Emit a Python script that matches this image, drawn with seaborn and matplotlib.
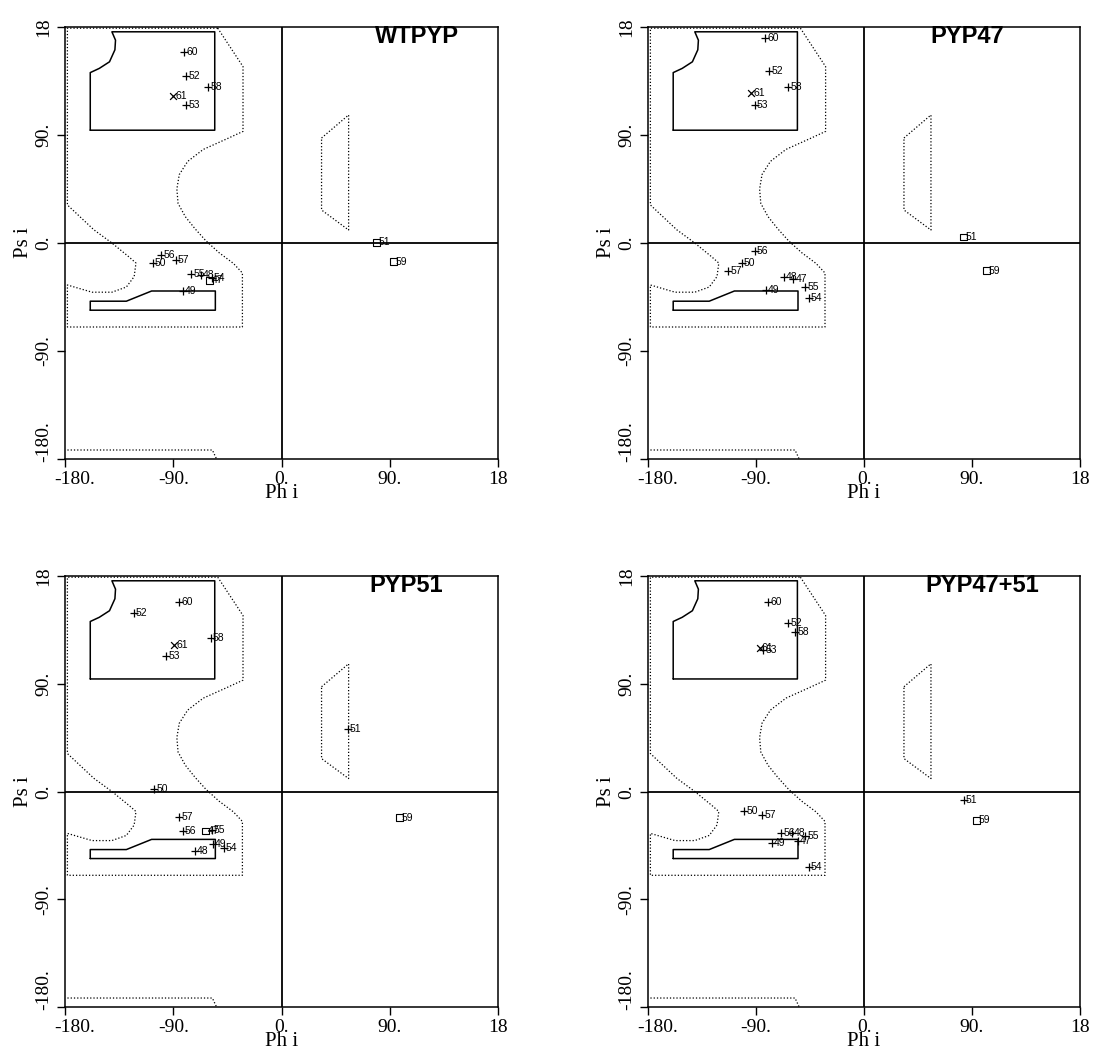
import matplotlib
matplotlib.use('Agg')
import matplotlib.pyplot as plt
import matplotlib.transforms as mtransforms
import seaborn as sns
import pandas as pd

# --- data -------------------------------------------------------------
panels = ['WTPYP', 'PYP47', 'PYP51', 'PYP47+51']
residues = [47, 48, 49, 50, 51, 52, 53, 54, 55, 56, 57, 58, 59, 60, 61]

wt_phi = [-60, -67, -82, -107, 79, -79, -79, -58, -75, -100, -88, -61, 93, -81, -90]
wt_psi = [-31, -27, -40, -17, 0.5, 139, 115, -29, -26, -10, -14, 130, -15.5, 159, 122.5]
wt_gly = [47, 51, 59]

p47_phi = [-59, -67, -82, -102, 83, -79, -91, -46, -49, -91, -113, -63, 102, -82.5, -94]
p47_psi = [-30, -28, -39, -17, 5, 143, 115, -46, -37, -7, -23, 130, -23, 170.5, 125]
p47_gly = [51, 59]

p51_phi = [-63, -72, -57, -106, 55, -123, -96, -48, -58, -82, -85, -59, 98, -85, -89]
p51_psi = [-33, -50, -44, 2, 52, 149, 113, -47, -32, -33, -21, 128, -22, 158, 122]
p51_gly = [47, 59]

p4751_phi = [-55, -60, -77, -100, 83, -63, -84, -46, -49, -69, -85, -57.5, 94, -80, -87]
p4751_psi = [-41, -35, -43, -16, -7.5, 140.5, 118, -63, -37, -35, -20, 133, -24, 158, 119.5]
p4751_gly = [59]

cross_res = 61

# allowed-region outlines (phi, psi)
core_beta_phi = [-159, -55.5, -55.5, -141, -138, -138.5, -143, -151.5, -159, -159]
core_beta_psi = [94, 94, 176, 176, 169, 161, 151, 145.5, 142, 94]
core_alpha_phi = [-159, -55, -55, -108, -129, -159, -159]
core_alpha_psi = [-56, -56, -40, -40, -48.5, -48.5, -56]
outer_phi = [-53, -32, -32, -45, -65, -78, -85, -87, -86, -80, -72, -63, -52, -40, -32.5,
             -32.5, -178, -178, -157.5, -141, -129, -122.5, -121, -126.7, -141, -156, -178, -178, -53]
outer_psi = [179, 147, 93, 87, 78, 68, 57, 45, 33, 22, 12, 2, -8, -17, -25,
             -70, -70, -35, -41, -41, -36.7, -28, -16.7, -11.7, 0, 11, 31.7, 179, 179]
strip_phi = [-178, -57.5, -54]
strip_psi = [-172.5, -172.5, -180]
left_phi = [33.3, 55.8, 55.8, 33.3, 33.3]
left_psi = [87.5, 106.7, 10.8, 27.5, 87.5]

ticks = [-180, -90, 0, 90, 180]
tick_labels = ['-180.', '-90.', '0.', '90.', '18']

# --- plotting ---------------------------------------------------------
sns.set_style('white')
plt.rcParams['font.family'] = ['Liberation Serif', 'DejaVu Serif']
for key in ['text.color', 'axes.labelcolor', 'xtick.color', 'ytick.color']:
    plt.rcParams[key] = 'black'

fig = plt.figure(figsize=(10.95, 10.62), dpi=100)
positions = [
    [65 / 1095, 1 - 459 / 1062, 433 / 1095, 432 / 1062],
    [648 / 1095, 1 - 459 / 1062, 432 / 1095, 432 / 1062],
    [65 / 1095, 1 - 1007 / 1062, 433 / 1095, 431 / 1062],
    [648 / 1095, 1 - 1007 / 1062, 432 / 1095, 431 / 1062],
]
title_x = [0.716, 0.653, 0.704, 0.641]

data = [
    (wt_phi, wt_psi, wt_gly),
    (p47_phi, p47_psi, p47_gly),
    (p51_phi, p51_psi, p51_gly),
    (p4751_phi, p4751_psi, p4751_gly),
]

dot = (0, (1, 1.6))
sans = ['Liberation Sans', 'DejaVu Sans']

for i, (name, (phi, psi, gly)) in enumerate(zip(panels, data)):
    ax = fig.add_axes(positions[i])

    # region outlines
    ax.plot(core_beta_phi, core_beta_psi, color='black', lw=1.1)
    ax.plot(core_alpha_phi, core_alpha_psi, color='black', lw=1.1)
    ax.plot(outer_phi, outer_psi, color='black', lw=0.9, ls=dot)
    ax.plot(strip_phi, strip_psi, color='black', lw=0.9, ls=dot)
    ax.plot(left_phi, left_psi, color='black', lw=0.9, ls=dot)

    ax.axhline(0, color='black', lw=1.3)
    ax.axvline(0, color='black', lw=1.3)

    df = pd.DataFrame({'res': residues, 'phi': phi, 'psi': psi})
    df['kind'] = 'plus'
    df.loc[df['res'].isin(gly), 'kind'] = 'gly'
    df.loc[df['res'] == cross_res, 'kind'] = 'cross'

    sns.scatterplot(data=df[df['kind'] == 'plus'], x='phi', y='psi', marker='+',
                    s=30, color='black', linewidth=0.9, ax=ax, legend=False)
    sns.scatterplot(data=df[df['kind'] == 'cross'], x='phi', y='psi', marker='x',
                    s=24, color='black', linewidth=0.9, ax=ax, legend=False)
    sns.scatterplot(data=df[df['kind'] == 'gly'], x='phi', y='psi', marker='s',
                    s=24, facecolor='none', edgecolor='black', linewidth=0.8,
                    ax=ax, legend=False)

    for _, r in df.iterrows():
        ax.annotate(str(r['res']), (r['phi'], r['psi']), xytext=(1.5, 0),
                    textcoords='offset points', ha='left', va='center',
                    fontsize=7.5, family=sans)

    ax.text(title_x[i], 0.977, name, transform=ax.transAxes, ha='left', va='center',
            fontsize=17, fontweight='bold', family=sans)

    ax.set_xlim(-180, 180)
    ax.set_ylim(-180, 180)
    ax.set_xticks(ticks)
    ax.set_xticklabels(tick_labels)
    ax.set_yticks(ticks)
    ax.set_yticklabels(tick_labels, rotation=90, va='center')
    ax.tick_params(direction='out', length=6, width=1, labelsize=14,
                   bottom=True, left=True, top=False, right=False, pad=3)

    # keep the -180. labels inside the corner, as in the original plot
    xl = ax.get_xticklabels()[0]
    xl.set_ha('left')
    xl.set_transform(xl.get_transform() + mtransforms.ScaledTranslation(-0.11, 0, fig.dpi_scale_trans))
    yl = ax.get_yticklabels()[0]
    yl.set_va('bottom')
    yl.set_transform(yl.get_transform() + mtransforms.ScaledTranslation(0, -0.03, fig.dpi_scale_trans))

    ax.set_xlabel('Ph i', fontsize=15, labelpad=-3)
    ax.set_ylabel('Ps i', fontsize=15, labelpad=2)
    for sp in ax.spines.values():
        sp.set_color('black')
        sp.set_linewidth(1.1)

fig.savefig('out.png', dpi=100)
